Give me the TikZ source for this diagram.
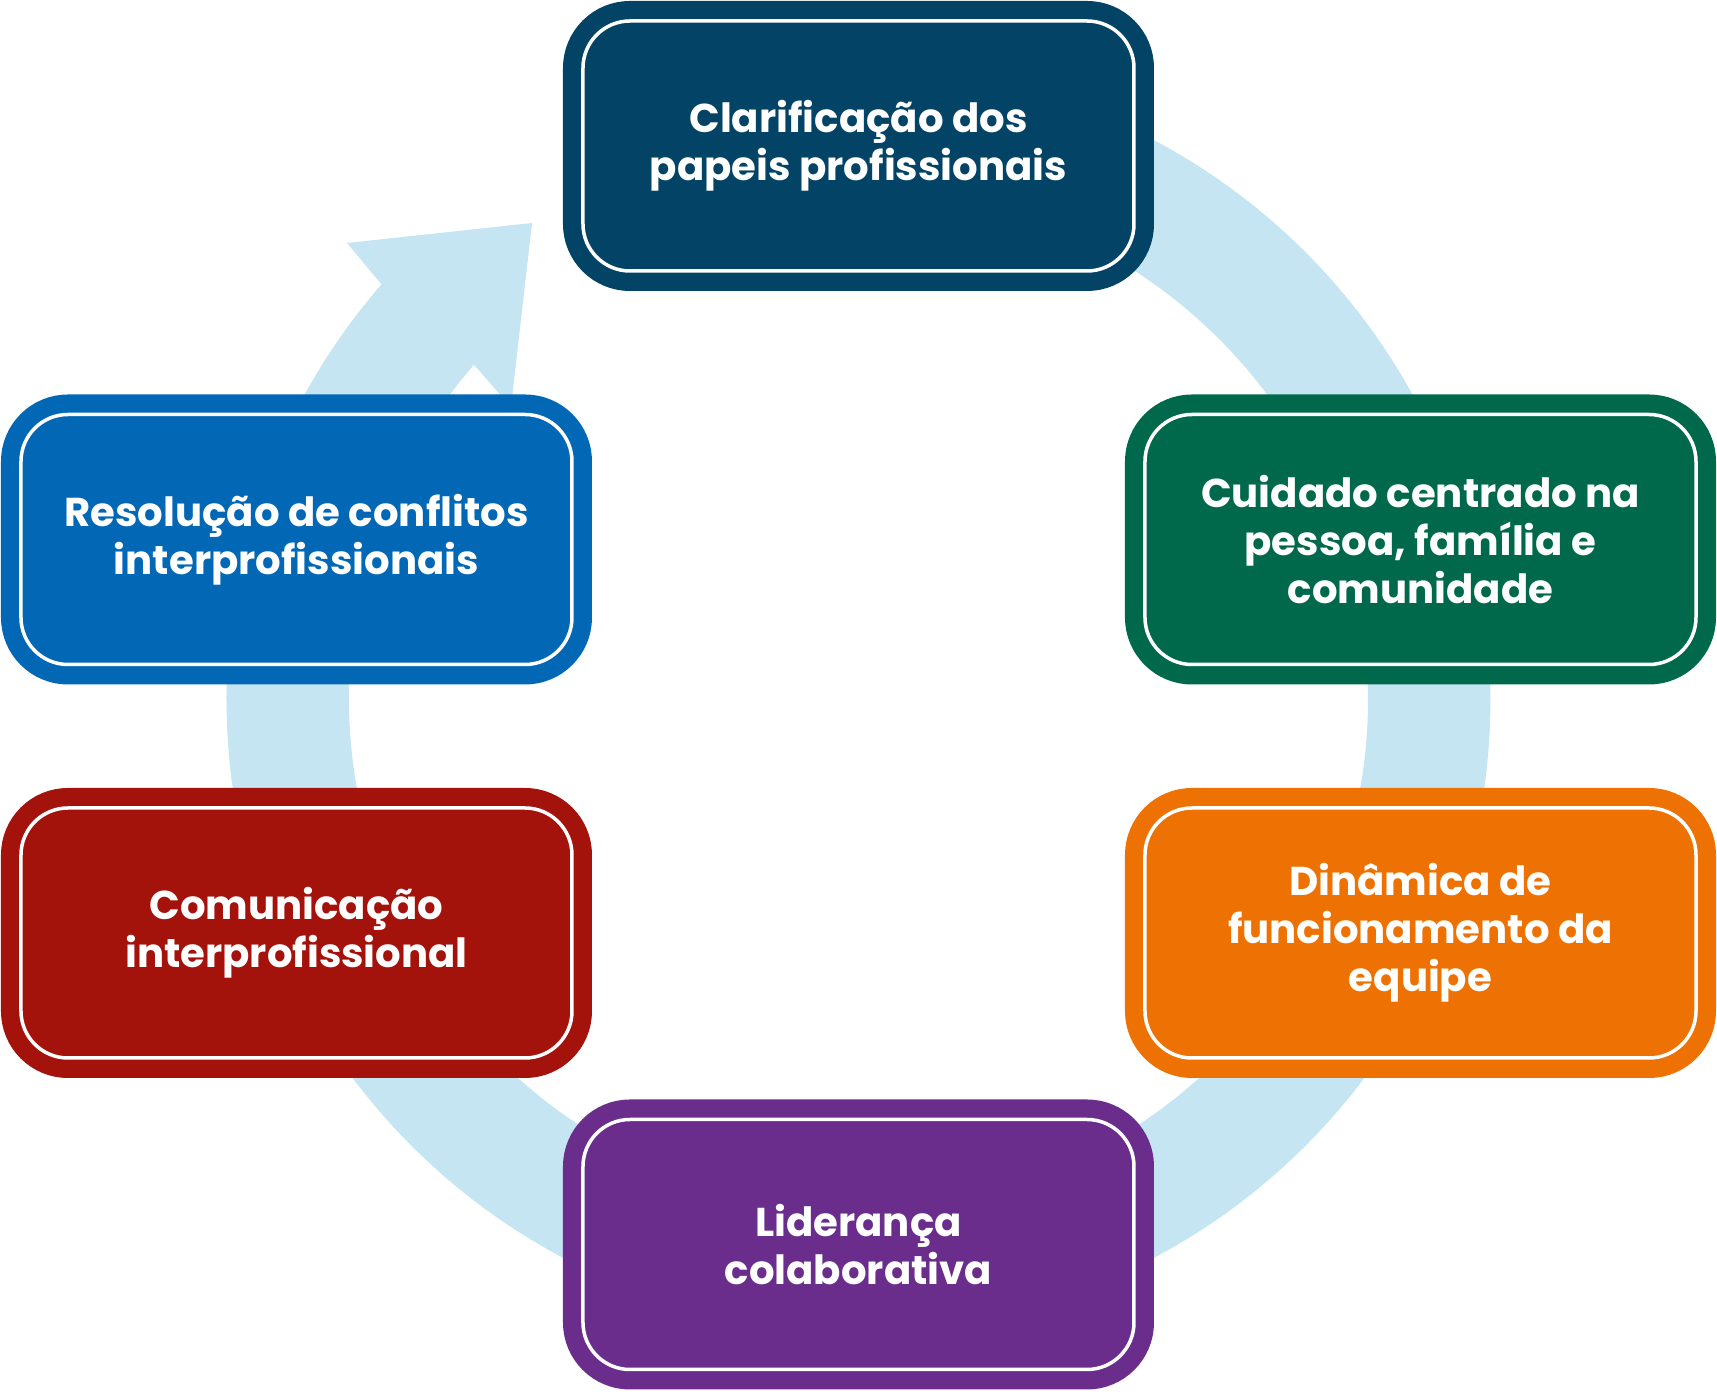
\documentclass[tikz,border=0pt]{standalone}
\usepackage{fontspec}
\setmainfont{Poppins}
\usepackage{tikz}

\definecolor{azulescuro}{RGB}{3,68,102}
\definecolor{verde}{RGB}{0,105,75}
\definecolor{laranja}{RGB}{238,114,3}
\definecolor{roxo}{RGB}{106,45,140}
\definecolor{vermelho}{RGB}{163,18,11}
\definecolor{azul}{RGB}{2,104,181}
\definecolor{azulclaro}{RGB}{197,229,243}

\tikzset{
	caixa/.style={rectangle, rounded corners=0.47cm, fill=#1, draw=#1,
		double=white, double distance=0.035cm, line width=0.1825cm,
		minimum width=5.51cm, minimum height=2.50cm, align=center,
		text=white, font=\bfseries\fontsize{11.45}{13.7}\selectfont}
}
\tikzset{
	anel/.style={fill=azulclaro}
}

\begin{document}
\begin{tikzpicture}
      \useasboundingbox (-8.585,-6.93) rectangle (8.585,6.99);
      \fill[anel] (90:6.32) arc[start angle=90, end angle=-221, radius=6.32]
        -- (-5.115,4.56) -- (-3.265,4.76) -- (-3.475,2.92)
        -- (-221:5.095) arc[start angle=-221, end angle=90, radius=5.095] -- cycle;
      \node[caixa=azulescuro] (papeis) at (0,5.53) {Clarificação dos\\papeis profissionais};
      \node[caixa=verde] (cuidado) at (5.62,1.595) {Cuidado centrado na\\pessoa, família e\\comunidade};
      \node[caixa=laranja] (dinamica) at (5.62,-2.34) {Dinâmica de\\funcionamento da\\equipe};
      \node[caixa=roxo] (lideranca) at (0,-5.455) {Liderança\\colaborativa};
      \node[caixa=vermelho] (comunicacao) at (-5.62,-2.34) {Comunicação\\interprofissional};
      \node[caixa=azul] (conflitos) at (-5.62,1.595) {Resolução de conflitos\\interprofissionais};
    \end{tikzpicture}
\end{document}
